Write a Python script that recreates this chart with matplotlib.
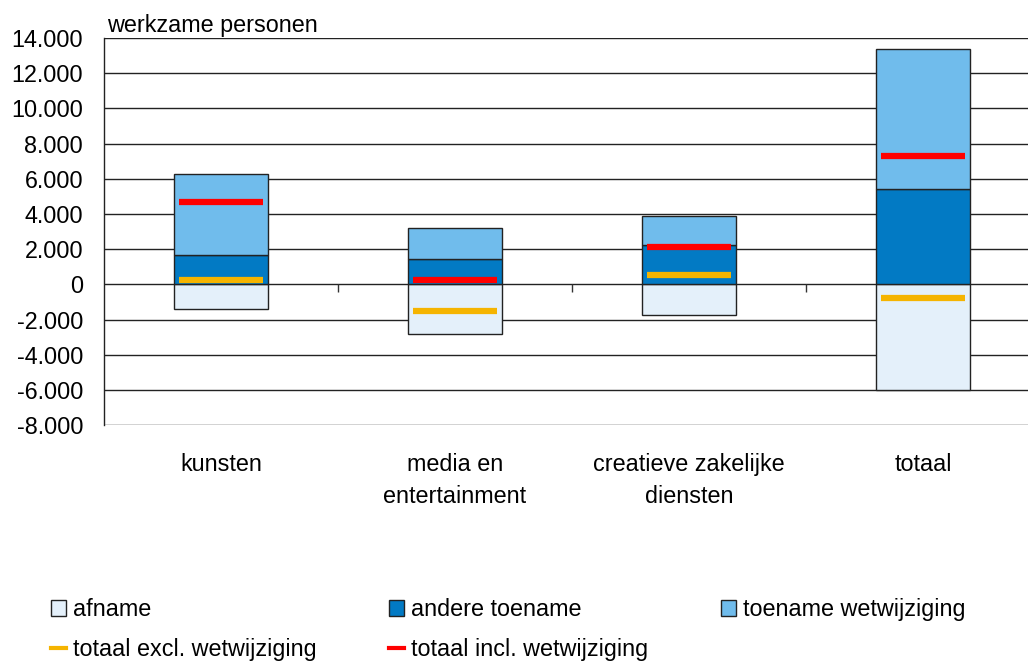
import matplotlib
matplotlib.use("Agg")
import matplotlib.pyplot as plt
from matplotlib.patches import Patch
from matplotlib.lines import Line2D
import numpy as np

plt.rcParams['font.family'] = ['Liberation Sans', 'DejaVu Sans']

categories = ["kunsten", "media en\nentertainment", "creatieve zakelijke\ndiensten", "totaal"]
afname = [-1400, -2800, -1750, -6000]
andere_toename = [1700, 1450, 2250, 5400]
toename_wetwijziging = [4600, 1750, 1650, 8000]
totaal_excl = [270, -1480, 530, -750]
totaal_incl = [4700, 250, 2100, 7300]
yticks = [-8000, -6000, -4000, -2000, 0, 2000, 4000, 6000, 8000, 10000, 12000, 14000]
ytick_labels = ["-8.000", "-6.000", "-4.000", "-2.000", "0", "2.000", "4.000",
                "6.000", "8.000", "10.000", "12.000", "14.000"]

c_afname = "#E4F0FA"
c_andere = "#027AC4"
c_toename = "#70BCEC"
c_excl = "#F5B400"
c_incl = "#FF0000"
edge = "#222222"
FS = 16.8

fig = plt.figure(figsize=(10.28, 6.61), dpi=100)
W, H = 1028, 661
left, right, top, bottom = 104, 1040, 38, 425.3
ax = fig.add_axes([left / W, 1 - bottom / H, (right - left) / W, (bottom - top) / H])

x = np.arange(len(categories))
bw = 0.4
ax.set_xlim(-0.5, len(categories) - 0.5)
ax.set_ylim(-8000, 14000)

for yv in yticks:
    ax.axhline(yv, color="#222222", lw=1.0, zorder=1)

ax.bar(x, afname, bw, color=c_afname, edgecolor=edge, lw=1.0, zorder=3)
ax.bar(x, andere_toename, bw, color=c_andere, edgecolor=edge, lw=1.0, zorder=3)
ax.bar(x, toename_wetwijziging, bw, bottom=andere_toename, color=c_toename,
       edgecolor=edge, lw=1.0, zorder=3)

hw = 0.18
ax.hlines(totaal_excl, x - hw, x + hw, color=c_excl, lw=4.5, zorder=4)
ax.hlines(totaal_incl, x - hw, x + hw, color=c_incl, lw=4.5, zorder=4)

# category boundary ticks below zero line
bounds = np.arange(0.5, len(categories) - 0.5, 1.0)
ax.vlines(bounds, -450, 0, color="#333333", lw=1.0, zorder=2)

ax.set_yticks(yticks)
ax.set_yticklabels(ytick_labels, fontsize=FS)
ax.set_xticks(x)
ax.set_xticklabels(categories, fontsize=FS, linespacing=1.5, va="top")
ax.tick_params(axis="x", length=0, pad=20)
ax.tick_params(axis="y", length=0, pad=15)
for s in ["top", "right", "bottom"]:
    ax.spines[s].set_visible(False)
ax.spines["left"].set_color("#222222")
ax.spines["left"].set_linewidth(1.0)

fig.text(107 / W, 1 - 32 / H, "werkzame personen", fontsize=FS, ha="left", va="baseline")

handles = [
    Patch(facecolor=c_afname, edgecolor=edge, lw=1.0),
    Line2D([], [], color=c_excl, lw=3),
    Patch(facecolor=c_andere, edgecolor=edge, lw=1.0),
    Line2D([], [], color=c_incl, lw=3),
    Patch(facecolor=c_toename, edgecolor=edge, lw=1.0),
]
labels = ["afname", "totaal excl. wetwijziging", "andere toename",
          "totaal incl. wetwijziging", "toename wetwijziging"]
fig.legend(handles, labels, ncol=3, loc="upper left",
           bbox_to_anchor=(51 / W, 1 - 598 / H), frameon=False, fontsize=FS,
           handlelength=0.65, handleheight=0.7, handletextpad=0.3,
           columnspacing=3.1, labelspacing=0.72,
           borderaxespad=0, borderpad=0)

fig.savefig("out.png", dpi=100)
